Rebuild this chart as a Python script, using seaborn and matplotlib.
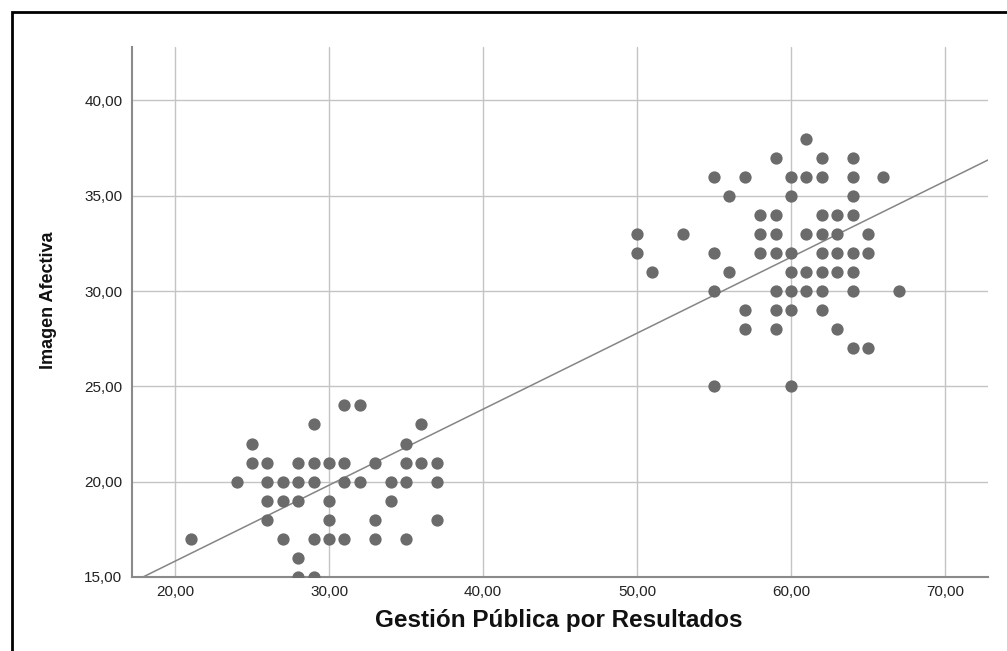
import numpy as np
import pandas as pd
import matplotlib
matplotlib.use("Agg")
import matplotlib.pyplot as plt
from matplotlib.path import Path
from matplotlib.patches import Rectangle
from matplotlib.ticker import FuncFormatter
import seaborn as sns

# Lower group: (Gestión Pública por Resultados, Imagen Afectiva) by row of y
low_x = [31, 32,
         29, 36,
         25, 35,
         25, 26, 28, 29, 30, 31, 33, 35, 36, 37,
         24, 26, 27, 28, 29, 31, 32, 34, 35, 37,
         26, 27, 28, 30, 34,
         26, 30, 33, 37,
         21, 27, 29, 30, 31, 33, 35,
         28,
         28, 29]
low_y = [24, 24,
         23, 23,
         22, 22,
         21, 21, 21, 21, 21, 21, 21, 21, 21, 21,
         20, 20, 20, 20, 20, 20, 20, 20, 20, 20,
         19, 19, 19, 19, 19,
         18, 18, 18, 18,
         17, 17, 17, 17, 17, 17, 17,
         16,
         15, 15]

# Upper group
high_x = [61,
          59, 62, 64,
          55, 57, 60, 61, 62, 64, 66,
          56, 60, 64,
          58, 59, 62, 63, 64,
          50, 53, 58, 59, 61, 62, 63, 65,
          50, 55, 58, 59, 60, 62, 63, 64, 65,
          51, 56, 60, 61, 62, 63, 64,
          55, 59, 60, 61, 62, 64, 67,
          57, 59, 60, 62,
          57, 59, 63,
          64, 65,
          55, 60]
high_y = [38,
          37, 37, 37,
          36, 36, 36, 36, 36, 36, 36,
          35, 35, 35,
          34, 34, 34, 34, 34,
          33, 33, 33, 33, 33, 33, 33, 33,
          32, 32, 32, 32, 32, 32, 32, 32, 32,
          31, 31, 31, 31, 31, 31, 31,
          30, 30, 30, 30, 30, 30, 30,
          29, 29, 29, 29,
          28, 28, 28,
          27, 27,
          25, 25]

x_ticks = [20, 30, 40, 50, 60, 70]
y_ticks = [15, 20, 25, 30, 35, 40]

df = pd.DataFrame({
    "Gestión Pública por Resultados": low_x + high_x,
    "Imagen Afectiva": low_y + high_y,
})

sns.set_theme(style="white")
plt.rcParams["font.family"] = ["Liberation Sans", "DejaVu Sans"]

fig = plt.figure(figsize=(10.07, 6.51), dpi=100)
ax = fig.add_axes([132 / 1007, 1 - 577 / 651, (988 - 132) / 1007, (577 - 47) / 651])
ax.set_xlim(17.2, 72.8)
ax.set_ylim(15, 42.8)

# slightly flattened round marker
circ = Path.unit_circle()
ell = Path(circ.vertices * np.array([1.0, 0.8]), circ.codes)

sns.regplot(
    data=df, x="Gestión Pública por Resultados", y="Imagen Afectiva",
    ax=ax, ci=None, truncate=False,
    scatter_kws=dict(marker=ell, s=78, color="#6b6b6b", linewidths=0, alpha=1, zorder=3),
    line_kws=dict(color="#858585", linewidth=1.1, zorder=2),
)

ax.set_xticks(x_ticks)
ax.set_yticks(y_ticks)
fmt = FuncFormatter(lambda v, p: f"{v:.2f}".replace(".", ","))
ax.xaxis.set_major_formatter(fmt)
ax.yaxis.set_major_formatter(fmt)
ax.tick_params(axis="both", length=0, labelsize=11, colors="#222222")
ax.tick_params(axis="y", pad=7)
ax.tick_params(axis="x", pad=6)

ax.grid(True, color="#c4c4c4", linewidth=1.0, zorder=0)
ax.set_axisbelow(True)
for side in ("top", "right"):
    ax.spines[side].set_visible(False)
for side in ("left", "bottom"):
    ax.spines[side].set_color("#8a8a8a")
    ax.spines[side].set_linewidth(1.5)

ax.set_xlabel("Gestión Pública por Resultados", fontsize=17.5, fontweight="bold",
              color="#111111")
ax.set_ylabel("Imagen Afectiva", fontsize=13, color="#111111", fontweight="bold")
ax.xaxis.set_label_coords(0.499, -0.060)
ax.yaxis.set_label_coords(-0.088, 0.523)

# outer frame
fig.patches.append(Rectangle((12 / 1007, -0.1), 1.2, 1 - 12 / 651 + 0.1,
                             transform=fig.transFigure, fill=False,
                             edgecolor="black", linewidth=2, clip_on=False))

fig.savefig("out.png", dpi=100)
